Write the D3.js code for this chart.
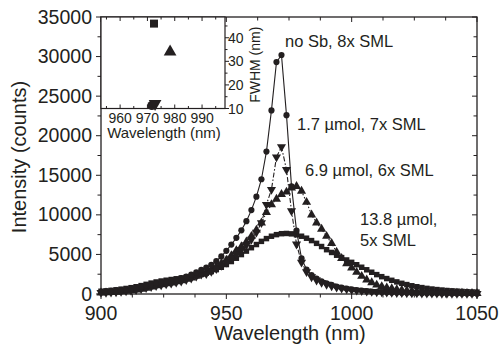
<!DOCTYPE html>
<html><head><meta charset="utf-8">
<script src="https://cdn.jsdelivr.net/npm/d3@7"></script>
<style>
html,body{margin:0;padding:0;background:#fff;}
svg{display:block;font-family:"Liberation Sans",Arial,Helvetica,sans-serif;}
</style></head>
<body><svg id="c" width="499" height="345"></svg>
<script>
// ---------- DATA ----------
const wavelengths = d3.range(900, 1051, 2); // sampling grid of the spectra (nm), 76 points
const noSb = [250,300,350,420,500,580,680,800,950,1100,1250,1380,1480,1560,1680,1830,2000,2200,2450,2750,3050,3350,3700,4150,4750,5450,6250,7100,8050,9200,10600,12300,14500,18000,23200,29300,30200,22600,13600,8000,4500,3100,2400,1950,1600,1350,1150,950,800,680,580,500,430,370,320,280,250,220,200,180,160,145,130,120,110,100,95,90,85,80,75,70,65,60,55,50];
const sb17 = [180,200,230,270,320,380,450,540,650,780,920,1050,1150,1250,1350,1480,1620,1800,2000,2250,2500,2550,2850,3200,3600,4000,4500,5000,5600,6200,6900,7800,9000,11300,13200,17300,18600,15700,10500,6300,4000,2800,2150,1750,1450,1200,1000,850,720,620,530,460,400,350,305,270,240,210,190,170,150,135,125,115,105,95,90,85,80,75,70,65,60,55,50,45];
const sb69 = [150,170,200,240,290,350,420,510,620,750,900,1050,1180,1300,1420,1550,1700,1870,2050,2250,2500,2780,3100,3450,3850,4300,4850,5500,6000,6600,7300,8100,9000,10300,11300,12000,12600,12900,13400,13600,13000,11600,10000,9000,8200,7300,6400,5300,4500,3850,3300,2750,2250,1800,1450,1150,950,800,680,580,500,430,370,320,280,245,215,190,170,150,135,120,110,100,90,80];
const sb138 = [350,400,460,530,610,700,800,920,1060,1220,1380,1520,1640,1740,1830,1920,2010,2100,2200,2320,2460,2630,2830,3080,3380,3720,4100,4520,4980,5420,5850,6250,6650,7000,7300,7500,7620,7650,7600,7480,7300,7050,6750,6400,6000,5600,5250,4900,4600,4300,4000,3700,3380,3060,2750,2450,2190,1950,1730,1530,1350,1190,1040,920,810,710,630,560,500,440,400,360,320,290,260,240];
const seriesNames = ["no Sb, 8x SML","1.7 µmol, 7x SML","6.9 µmol, 6x SML","13.8 µmol, 5x SML"];
const xTicks = [900,950,1000,1050];
const yTicks = [0,5000,10000,15000,20000,25000,30000,35000];
// inset: peak wavelength (nm) vs FWHM (nm)
const insetPeak = [971.6, 972.8, 978.3, 972.4];
const insetFwhm = [11.3, 12.1, 34, 46];
const insetXTicks = [960,970,980,990];
const insetYTicks = [10,20,30,40];

// ---------- DRAW ----------
const svg = d3.select("#c");
const ink = "#231f20";
const L=101, R=477, T=17, B=294;
const x = d3.scaleLinear().domain([900,1050]).range([L,R]);
const y = d3.scaleLinear().domain([0,35000]).range([B,T]);

const series = [
  {v:noSb, sym:d3.symbolCircle, size:30, rot:0, dash:null},
  {v:sb17, sym:d3.symbolTriangle, size:36, rot:180, dash:"5,2,1.5,2"},
  {v:sb69, sym:d3.symbolTriangle, size:36, rot:0, dash:"1.5,2"},
  {v:sb138, sym:d3.symbolSquare, size:30, rot:0, dash:null}
];

const line = d3.line().x((d,i)=>x(wavelengths[i])).y(d=>y(d));
const plot = svg.append("g");
[3,2,1,0].forEach(k=>{
  const s=series[k];
  plot.append("path").attr("d",line(s.v)).attr("fill","none").attr("stroke",ink)
    .attr("stroke-width",1.1).attr("stroke-dasharray",s.dash);
  const sym=d3.symbol().type(s.sym).size(s.size);
  plot.selectAll(null).data(s.v).join("path")
    .attr("d",sym)
    .attr("transform",(d,i)=>`translate(${x(wavelengths[i])},${y(d)}) rotate(${s.rot})`)
    .attr("fill",ink);
});

// axes
const xMinor = d3.range(900,1050.1,12.5);
const yMinor = d3.range(0,35001,2500);
const ax = svg.append("g").attr("stroke",ink);
xMinor.forEach(v=>{const maj=xTicks.includes(v);
  ax.append("line").attr("x1",x(v)).attr("x2",x(v)).attr("y1",B).attr("y2",B+(maj?5:3.5)).attr("stroke-width",1);
  ax.append("line").attr("x1",x(v)).attr("x2",x(v)).attr("y1",T).attr("y2",T+(maj?5:3.5)).attr("stroke-width",1);
});
yMinor.forEach(v=>{const maj=yTicks.includes(v);
  ax.append("line").attr("x1",L).attr("x2",L-(maj?5:3.5)).attr("y1",y(v)).attr("y2",y(v)).attr("stroke-width",1);
  ax.append("line").attr("x1",R).attr("x2",R-(maj?5:3.5)).attr("y1",y(v)).attr("y2",y(v)).attr("stroke-width",1);
});
ax.append("rect").attr("x",L).attr("y",T).attr("width",R-L).attr("height",B-T).attr("fill","none").attr("stroke-width",1.3);

const txt = svg.append("g").attr("fill",ink);
xTicks.forEach(v=>txt.append("text").attr("x",x(v)).attr("y",B+26).attr("text-anchor","middle").attr("font-size",19.5).text(v));
yTicks.forEach(v=>txt.append("text").attr("x",L-9).attr("y",y(v)).attr("dy","0.34em").attr("text-anchor","end").attr("font-size",19.5).text(v));
txt.append("text").attr("x",290).attr("y",340).attr("text-anchor","middle").attr("font-size",20).text("Wavelength (nm)");
txt.append("text").attr("transform","translate(26,157) rotate(-90)").attr("text-anchor","middle").attr("font-size",20).text("Intensity (counts)");

// annotations
const af=16.5;
txt.append("text").attr("x",285).attr("y",47).attr("font-size",af).text(seriesNames[0]);
txt.append("text").attr("x",297).attr("y",130).attr("font-size",af).text(seriesNames[1]);
txt.append("text").attr("x",305).attr("y",176).attr("font-size",af).text(seriesNames[2]);
txt.append("text").attr("x",360).attr("y",225).attr("font-size",af).text("13.8 µmol,");
txt.append("text").attr("x",360).attr("y",246).attr("font-size",af).text("5x SML");

// inset
const iL=L, iR=225, iT=T, iB=108.5;
const ix=d3.scaleLinear().domain([953,998.4]).range([iL,iR]);
const iy=d3.scaleLinear().domain([10,48.8]).range([iB,iT]);
const ins=svg.append("g");
ins.append("rect").attr("x",iL).attr("y",iT).attr("width",iR-iL).attr("height",iB-iT).attr("fill","#fff").attr("stroke",ink).attr("stroke-width",1.2);
d3.range(955,998,5).forEach(v=>{const maj=insetXTicks.includes(v);
  ins.append("line").attr("x1",ix(v)).attr("x2",ix(v)).attr("y1",iT).attr("y2",iT+(maj?4:2.5)).attr("stroke",ink);
  ins.append("line").attr("x1",ix(v)).attr("x2",ix(v)).attr("y1",iB).attr("y2",iB-(maj?4:2.5)).attr("stroke",ink);
});
d3.range(10,48.8,5).forEach(v=>{const maj=insetYTicks.includes(v);
  ins.append("line").attr("x1",iR).attr("x2",iR+(maj?4:2.5)).attr("y1",iy(v)).attr("y2",iy(v)).attr("stroke",ink);
});
insetXTicks.forEach(v=>ins.append("text").attr("x",ix(v)).attr("y",iB+14).attr("text-anchor","middle").attr("font-size",14).attr("fill",ink).text(v));
insetYTicks.forEach(v=>ins.append("text").attr("x",iR+3).attr("y",iy(v)).attr("dy","0.36em").attr("font-size",14).attr("fill",ink).text(v));
ins.append("text").attr("x",(iL+iR)/2+1).attr("y",138).attr("text-anchor","middle").attr("font-size",15).attr("fill",ink).text("Wavelength (nm)");
ins.append("text").attr("transform",`translate(260,${(iT+iB)/2+2}) rotate(-90)`).attr("text-anchor","middle").attr("font-size",14).attr("fill",ink).text("FWHM (nm)");
const iSyms=[[d3.symbolCircle,64,0],[d3.symbolTriangle,70,180],[d3.symbolTriangle,70,0],[d3.symbolSquare,64,0]];
insetPeak.forEach((p,i)=>{
  ins.append("path").attr("d",d3.symbol().type(iSyms[i][0]).size(iSyms[i][1]))
    .attr("transform",`translate(${ix(p)},${iy(insetFwhm[i])}) rotate(${iSyms[i][2]})`).attr("fill",ink);
});
</script></body></html>
